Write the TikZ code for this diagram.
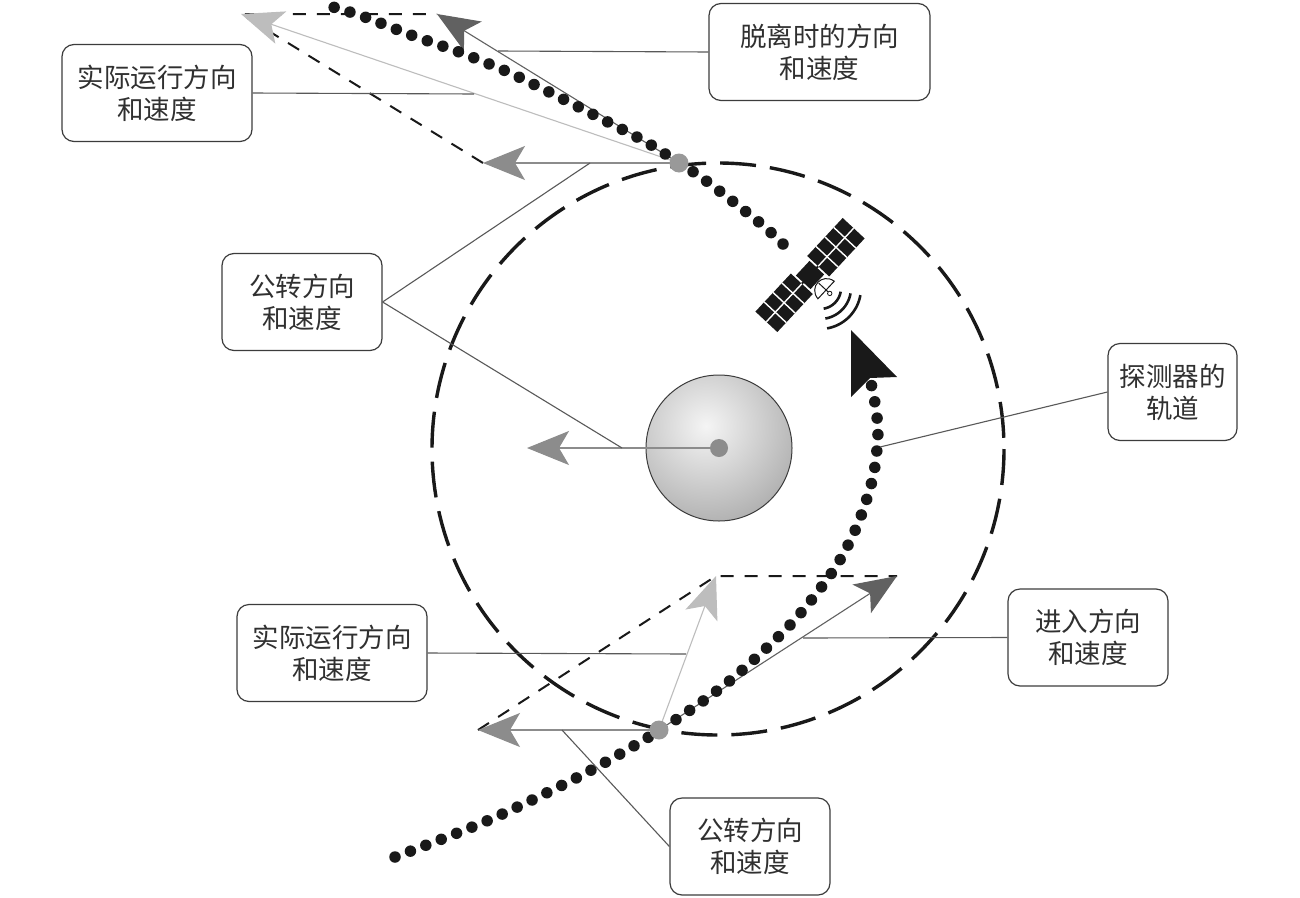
\documentclass[tikz,border=0pt]{standalone}
\usepackage{fontspec}
\newfontfamily\cjk{Noto Sans CJK SC}
\usetikzlibrary{arrows.meta}
\definecolor{revg}{gray}{0.55}
\definecolor{actg}{gray}{0.74}
\definecolor{dirg}{gray}{0.38}
\definecolor{dotg}{gray}{0.6}
\definecolor{ink}{gray}{0.1}
\definecolor{lead}{gray}{0.35}
\begin{document}
\begin{tikzpicture}[x=1pt,y=-1pt,
  labelbox/.style={draw=ink!85, line width=1.2pt, rounded corners=12pt, align=center,
    font=\cjk\fontsize{26.5}{32}\selectfont, text=ink!90, inner sep=0pt, minimum height=97pt},
  leader/.style={draw=lead, line width=1.1pt},
  vecarrow/.style={line width=1.1pt, -{Stealth[length=42pt,width=34pt,inset=10pt]}},
  paraline/.style={draw=ink, line width=2pt, dash pattern=on 13pt off 11pt},
  dotpath/.style={draw=ink, line width=11.5pt, line cap=round, dash pattern=on 0pt off 16.5pt},
  graydot/.style={circle, fill=dotg, minimum size=19pt, inner sep=0pt}]
\useasboundingbox (0,0) rectangle (1300,897);
\fill[white] (0,0) rectangle (1300,897);

% big dashed orbit circle
\draw[ink, line width=3.4pt, dash pattern=on 36pt off 14pt] (718,449) circle[radius=286];

% planet
\begin{scope}
  \clip (719,448) circle[radius=73];
  \shade[inner color=gray!8, outer color=gray!62] (706,426) circle[radius=100];
\end{scope}
\node[circle, draw=ink!85, line width=1pt, minimum size=146pt, inner sep=0pt] (P) at (719,448) {};

% coordinates of vector tips
\coordinate (D1c) at (679,163);
\coordinate (D2c) at (659,730);
\coordinate (T1rev) at (483,163);
\coordinate (T1act) at (241,14);
\coordinate (T1dir) at (437,14);
\coordinate (T2rev) at (478,730);
\coordinate (T2act) at (716,576);
\coordinate (T2dir) at (897,576);
\coordinate (Prev) at (527,448);

% parallelogram dashed lines
\draw[paraline] (T1rev) -- (T1act) -- (T1dir);
\draw[paraline] (T2rev) -- (T2act) -- (T2dir);

% vector arrows
\draw[vecarrow, revg] (P.center) -- (Prev);
\draw[vecarrow, revg] (D1c) -- (T1rev);
\draw[vecarrow, actg] (D1c) -- (T1act);
\draw[vecarrow, dirg] (D1c) -- (T1dir);
\draw[vecarrow, revg] (D2c) -- (T2rev);
\draw[vecarrow, actg] (D2c) -- (T2act);
\draw[vecarrow, dirg] (D2c) -- (T2dir);

% dotted trajectory
\draw[dotpath] plot[smooth] coordinates {(395,857) (489,820) (582,775) (660,730) (727,683) (790,625) (833,571) (857,526) (873,477) (878,432) (874,397) (870,380)};
\draw[dotpath] plot[smooth] coordinates {(783,244) (760,223) (705,180) (679,163) (646,142) (600,118) (555,95) (508,72) (459,52) (411,35) (362,16) (326,5)};
\fill[ink] (851,330) -- (897,377) -- (870,378) -- (851,397) -- cycle;

% dots
\node[graydot] (D1) at (D1c) {};
\node[graydot] (D2) at (D2c) {};
\node[circle, fill=revg, minimum size=18pt, inner sep=0pt] (Pc) at (P.center) {};

% satellite
\begin{scope}[shift={(810,275)}, rotate=47]
  \draw[ink, line width=2pt] (-14,0) -- (14,0);
  \fill[ink] (12,-15) rectangle (64,15);
  \fill[ink] (-64,-15) rectangle (-12,15);
  \foreach \a in {12,-64}{
    \draw[white, line width=1.4pt] (\a,0) -- ++(52,0);
    \foreach \k in {13,26,39}{\draw[white, line width=1.4pt] (\a+\k,-15) -- ++(0,30);}
  }
  \fill[ink] (-10,-10) rectangle (10,10);
  \draw[ink, line width=1pt, fill=white] (-12,22) .. controls (-10,7) and (10,7) .. (12,22) -- cycle;
  \draw[ink, line width=1pt] (0,12) -- (0,25);
  \draw[ink, line width=0.8pt, fill=white] (0,27) circle[radius=2.2];
\end{scope}
\foreach \r in {21,31,41}{
  \draw[ink, line width=2.6pt] plot[domain=10:80, samples=20] ({820+\r*cos(\x)},{288+\r*sin(\x)});
}

% label boxes
\node[labelbox, minimum width=221pt] (b1) at (819.5,52) {脱离时的方向\\和速度};
\node[labelbox, minimum width=190pt] (b2) at (157,93) {实际运行方向\\和速度};
\node[labelbox, minimum width=160pt] (b3) at (302,302) {公转方向\\和速度};
\node[labelbox, minimum width=129pt] (b4) at (1172.5,392) {探测器的\\轨道};
\node[labelbox, minimum width=190pt] (b5) at (332,653) {实际运行方向\\和速度};
\node[labelbox, minimum width=160pt] (b6) at (1088,637.5) {进入方向\\和速度};
\node[labelbox, minimum width=160pt] (b7) at (750,846.5) {公转方向\\和速度};

% leader targets
\coordinate (a1) at (498,51);
\coordinate (a2) at (474,94);
\coordinate (a3) at (590,163);
\coordinate (a4) at (622,448);
\coordinate (a5) at (880,447);
\coordinate (a6) at (686,654);
\coordinate (a7) at (803,638);
\coordinate (a8) at (562,730);

\draw[leader] (b1.west) -- (a1);
\draw[leader] (b2.east) -- (a2);
\draw[leader] (b3.east) -- (a3);
\draw[leader] (b3.east) -- (a4);
\draw[leader] (b4.west) -- (a5);
\draw[leader] (b5.east) -- (a6);
\draw[leader] (b6.west) -- (a7);
\draw[leader] (b7.west) -- (a8);
\end{tikzpicture}
\end{document}
